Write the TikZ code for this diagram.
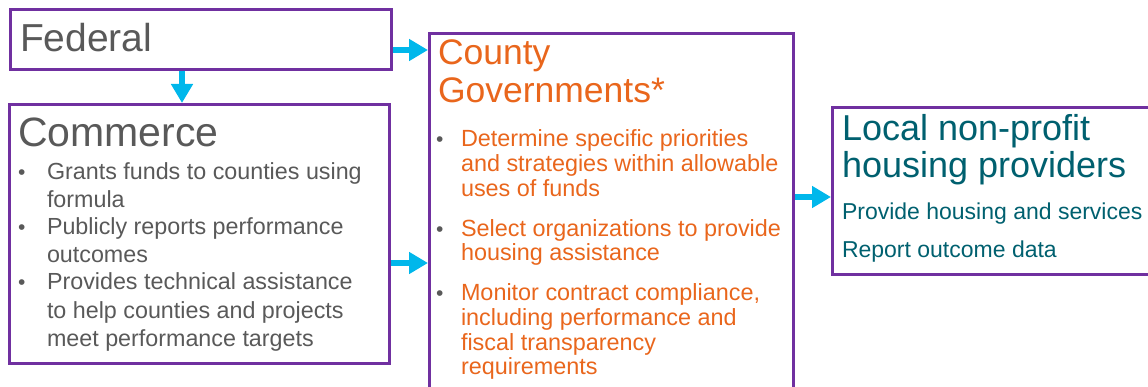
\documentclass[tikz,border=0pt]{standalone}
\usepackage{fontspec}
\setmainfont{Liberation Sans}
\usetikzlibrary{arrows.meta,calc}
\definecolor{boxpurple}{HTML}{7030A0}
\definecolor{flowcyan}{HTML}{00B7EB}
\definecolor{textgray}{HTML}{595959}
\definecolor{countyorange}{HTML}{E9661C}
\definecolor{localteal}{HTML}{00606F}
\newcommand{\fsz}[1]{\fontsize{#1}{#1}\selectfont}
\begin{document}
\begin{tikzpicture}[x=1pt,y=-1pt,
  box/.style={draw=boxpurple, line width=2.6pt, inner sep=0pt, anchor=north west},
  flow/.style={draw=flowcyan, line width=5.5pt, -{Triangle[length=19pt,width=21pt]}},
  txt/.style={anchor=base west, inner sep=0pt, outer sep=0pt},
  titlegray/.style={txt, text=textgray},
  bodygray/.style={txt, text=textgray, font=\fsz{23.3}},
  bodyorange/.style={txt, text=countyorange, font=\fsz{23.4}},
  dotgray/.style={txt, text=textgray, font=\fsz{21}},
  bodyteal/.style={txt, text=localteal, font=\fsz{23}},
]
\useasboundingbox (0,0) rectangle (1148,387);
\clip (0,0) rectangle (1148,387);

% boxes
\node[box, minimum width=381pt, minimum height=60pt] (fed) at (9,8) {};
\node[box, minimum width=380pt, minimum height=259pt] (com) at (8,103) {};
\node[box, minimum width=364pt, minimum height=370pt] (cty) at (428,32) {};
\node[box, minimum width=330pt, minimum height=167pt] (loc) at (831,106) {};

% levels of the connectors
\coordinate (lvlFed) at (0,50);
\coordinate (lvlCom) at (0,263);
\coordinate (lvlCty) at (0,197);
\coordinate (colFed) at (182,0);

% connectors
\draw[flow] (fed.east |- lvlFed) -- (cty.west |- lvlFed);
\draw[flow] (fed.south -| colFed) -- (com.north -| colFed);
\draw[flow] (com.east |- lvlCom) -- (cty.west |- lvlCom);
\draw[flow] (cty.east |- lvlCty) -- (loc.west |- lvlCty);

% Federal
\node[titlegray, font=\fsz{39}] (fedT) at (20,52) {Federal};

% Commerce
\node[titlegray, font=\fsz{41}] (comT) at (18,147) {Commerce};
\node[dotgray] (comB1) at (18,180) {\textbullet};
\node[bodygray] (comL1) at (47,180) {Grants funds to counties using};
\node[bodygray] (comL2) at (47,208) {formula};
\node[dotgray] (comB2) at (18,235) {\textbullet};
\node[bodygray] (comL3) at (47,235) {Publicly reports performance};
\node[bodygray] (comL4) at (47,263) {outcomes};
\node[dotgray] (comB3) at (18,290) {\textbullet};
\node[bodygray] (comL5) at (47,290) {Provides technical assistance};
\node[bodygray] (comL6) at (47,318) {to help counties and projects};
\node[bodygray] (comL7) at (47,346) {meet performance targets};

% County Governments
\node[txt, text=countyorange, font=\fsz{35.5}] (ctyT1) at (438,65) {County};
\node[txt, text=countyorange, font=\fsz{35.5}] (ctyT2) at (438,103) {Governments*};
\node[dotgray] (ctyB1) at (436,147) {\textbullet};
\node[bodyorange] (ctyL1) at (461,147) {Determine specific priorities};
\node[bodyorange] (ctyL2) at (461,172) {and strategies within allowable};
\node[bodyorange] (ctyL3) at (461,197) {uses of funds};
\node[dotgray] (ctyB2) at (436,237) {\textbullet};
\node[bodyorange] (ctyL4) at (461,237) {Select organizations to provide};
\node[bodyorange] (ctyL5) at (461,261) {housing assistance};
\node[dotgray] (ctyB3) at (436,300) {\textbullet};
\node[bodyorange] (ctyL6) at (461,300) {Monitor contract compliance,};
\node[bodyorange] (ctyL7) at (461,325) {including performance and};
\node[bodyorange] (ctyL8) at (461,350) {fiscal transparency};
\node[bodyorange] (ctyL9) at (461,374) {requirements};

% Local non-profit housing providers
\node[txt, text=localteal, font=\fsz{36}] (locT1) at (842,141) {Local non-profit};
\node[txt, text=localteal, font=\fsz{36}] (locT2) at (842,178) {housing providers};
\node[bodyteal] (locL1) at (842,220) {Provide housing and services};
\node[bodyteal] (locL2) at (842,258) {Report outcome data};
\end{tikzpicture}
\end{document}
